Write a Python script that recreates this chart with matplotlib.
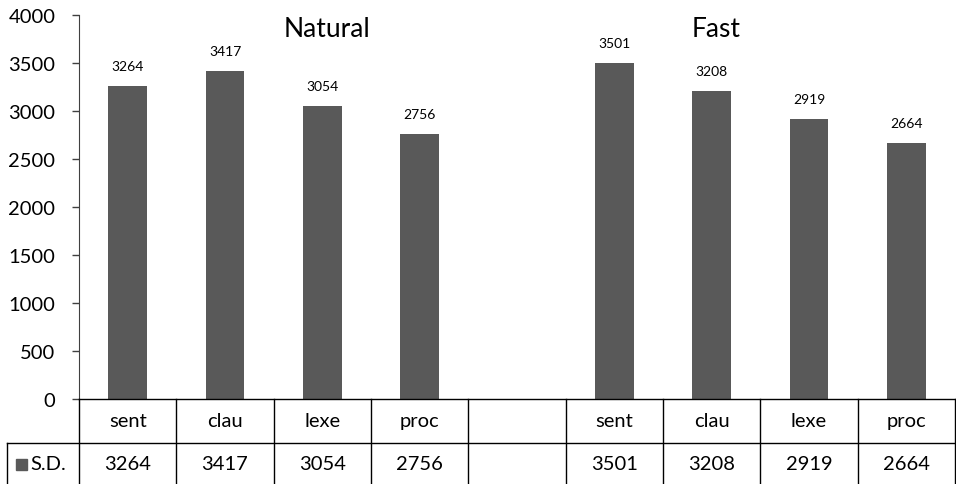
import numpy as np
import matplotlib.pyplot as plt
from matplotlib.lines import Line2D
from matplotlib.patches import Rectangle

# --- data ---
categories = ["sent", "clau", "lexe", "proc", "", "sent", "clau", "lexe", "proc"]
sd_values = [3264, 3417, 3054, 2756, None, 3501, 3208, 2919, 2664]
group_titles = ["Natural", "Fast"]
series_name = "S.D."
y_ticks = [0, 500, 1000, 1500, 2000, 2500, 3000, 3500, 4000]

plt.rcParams['font.family'] = ['Lato', 'DejaVu Sans']
bar_color = '#595959'
fs = 14.5

fig = plt.figure(figsize=(9.56, 4.85), dpi=100)
W, H = 956, 485
ax = fig.add_axes([79 / W, (H - 400) / H, 876 / W, 384 / H])

x = np.arange(len(categories))
for xi, v in zip(x, sd_values):
    if v is None:
        continue
    ax.bar(xi, v, width=0.4, color=bar_color)
    ax.annotate(str(v), (xi, v), xytext=(0, 14.5), textcoords='offset points',
                ha='center', va='center', fontsize=10)

ax.set_xlim(-0.5, len(categories) - 0.5)
ax.set_ylim(0, 4000)
ax.set_yticks(y_ticks)
ax.set_yticklabels([str(t) for t in y_ticks], fontsize=fs)
ax.tick_params(axis='y', length=5, width=1, color='#404040', pad=12)
ax.set_xticks([])
for s in ['top', 'right', 'bottom']:
    ax.spines[s].set_visible(False)
ax.spines['left'].set_color('#404040')

# group titles
ax.text(2.05, 3860, group_titles[0], ha='center', va='center', fontsize=19)
ax.text(6.05, 3860, group_titles[1], ha='center', va='center', fontsize=19)

# --- data table below the axes (figure pixel coords) ---
def px(xp, yp):
    return xp / W, 1 - yp / H

left, right = 79, 955
col_w = (right - left) / len(categories)
row1_top, row2_top, row2_bot = 400, 444, 488
lw = 1.0

def hline(x0, x1, y):
    a, b = px(x0, y), px(x1, y)
    fig.add_artist(Line2D([a[0], b[0]], [a[1], b[1]], color='black', lw=lw))

def vline(xp, y0, y1):
    a, b = px(xp, y0), px(xp, y1)
    fig.add_artist(Line2D([a[0], b[0]], [a[1], b[1]], color='black', lw=lw))

hline(left, right, row1_top)
hline(7, right, row2_top)
vline(7, row2_top, row2_bot)
for i in range(len(categories) + 1):
    vline(left + i * col_w, row1_top, row2_bot)

for i, (c, v) in enumerate(zip(categories, sd_values)):
    cx = left + (i + 0.5) * col_w
    fx, fy = px(cx, (row1_top + row2_top) / 2)
    fig.text(fx, fy, c, ha='center', va='center', fontsize=fs)
    fx, fy = px(cx, (row2_top + row2_bot) / 2 - 1)
    if v is not None:
        fig.text(fx, fy, str(v), ha='center', va='center', fontsize=fs)

# legend key in the series cell
kx, ky = px(16, 471)
fig.add_artist(Rectangle((kx, ky), 11 / W, 11 / H, color=bar_color))
fx, fy = px(30, (row2_top + row2_bot) / 2 - 1)
fig.text(fx, fy, series_name, ha='left', va='center', fontsize=fs)

fig.savefig('out.png', dpi=100)
